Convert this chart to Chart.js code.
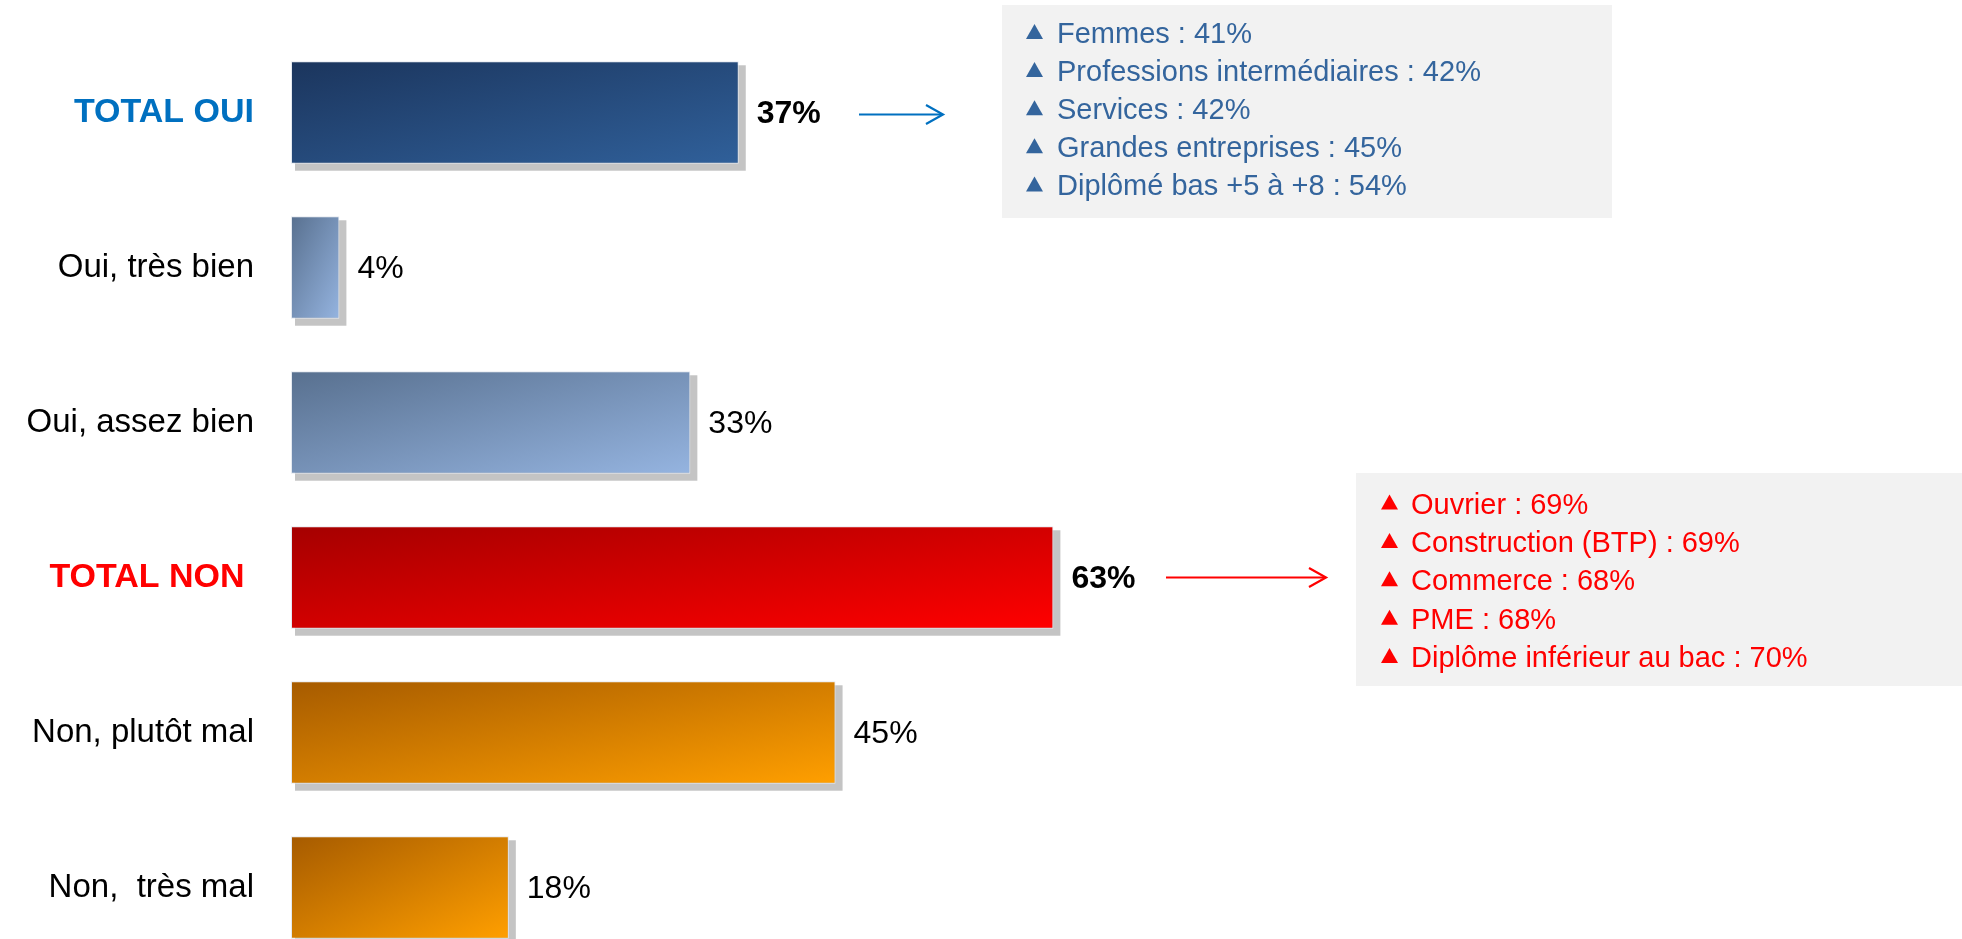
<!DOCTYPE html>
<html><head><meta charset="utf-8">
<script src="https://cdn.jsdelivr.net/npm/chart.js@4/dist/chart.umd.min.js"></script>
<style>html,body{margin:0;padding:0;overflow:hidden;background:#fff;width:1962px;height:939px}canvas{display:block}</style>
</head><body>
<canvas id="c" width="1962" height="970"></canvas>
<script>
// ---- data ----
const categories = ['TOTAL OUI', 'Oui, très bien', 'Oui, assez bien', 'TOTAL NON ', 'Non, plutôt mal', 'Non,  très mal'];
const values = [37, 4, 33, 63, 45, 18];
const totalRows = [true, false, false, true, false, false];
const ouiLabels = ['Femmes', 'Professions intermédiaires', 'Services', 'Grandes entreprises', 'Diplômé bas +5 à +8'];
const ouiValues = [41, 42, 42, 45, 54];
const nonLabels = ['Ouvrier', 'Construction (BTP)', 'Commerce', 'PME', 'Diplôme inférieur au bac'];
const nonValues = [69, 69, 68, 68, 70];

// ---- styles ----
const FONT = '"Liberation Sans", Arial, sans-serif';
const gradStart = ['#1b355d', '#58708f', '#58708f', '#a50000', '#a65b00', '#a65b00'];
const gradEnd = ['#30609a', '#95b4e0', '#95b4e0', '#ff0000', '#ff9f00', '#ff9f00'];
const labelColors = ['#0070c0', '#000', '#000', '#ff0000', '#000', '#000'];
const BAR_RATIO = 0.661;

function barGradient(ctx) {
  const chart = ctx.chart;
  const i = ctx.dataIndex || 0;
  const xs = chart.scales.x, ys = chart.scales.y;
  if (!chart.chartArea || !xs || !ys || ctx.type !== 'data') return gradEnd[i];
  const x0 = xs.getPixelForValue(0), x1 = xs.getPixelForValue(values[i]);
  const pitch = ys.getPixelForValue(1) - ys.getPixelForValue(0);
  const h = pitch * BAR_RATIO;
  const y0 = ys.getPixelForValue(i) - h / 2;
  const w = x1 - x0;
  const k = 2 * w * h / (h * h + w * w);
  const g = chart.ctx.createLinearGradient(x0, y0, x0 + h * k, y0 + w * k);
  g.addColorStop(0, gradStart[i]);
  g.addColorStop(1, gradEnd[i]);
  return g;
}

const shadowPlugin = {
  id: 'shadows',
  beforeDatasetsDraw(chart) {
    const ctx = chart.ctx;
    const meta = chart.getDatasetMeta(0);
    ctx.save();
    ctx.fillStyle = '#c4c4c4';
    meta.data.forEach(el => {
      const p = el.getProps(['x', 'y', 'base', 'height'], true);
      const top = p.y - p.height / 2;
      ctx.fillRect(p.base + 4, top + 4, p.x - p.base + 3, p.height + 3);
    });
    ctx.restore();
  }
};

const valueLabelPlugin = {
  id: 'valueLabels',
  afterDatasetsDraw(chart) {
    const ctx = chart.ctx;
    const meta = chart.getDatasetMeta(0);
    meta.data.forEach((el, i) => {
      ctx.save();
      ctx.font = (totalRows[i] ? 'bold ' : '') + '32px ' + FONT;
      ctx.fillStyle = '#000';
      ctx.textAlign = 'left';
      ctx.textBaseline = 'middle';
      ctx.fillText(values[i] + '%', el.x + 18, el.y + 2);
      ctx.restore();
    });
  }
};

function drawArrow(ctx, x0, x1, y, color) {
  ctx.save();
  ctx.strokeStyle = color;
  ctx.lineWidth = 2.2;
  ctx.lineCap = 'butt';
  ctx.beginPath();
  ctx.moveTo(x0, y); ctx.lineTo(x1 - 1, y);
  ctx.stroke();
  ctx.beginPath();
  ctx.moveTo(x1 - 17, y - 9.5); ctx.lineTo(x1, y); ctx.lineTo(x1 - 17, y + 9.5);
  ctx.stroke();
  ctx.restore();
}

function drawBox(ctx, box, labels, vals, color) {
  ctx.save();
  ctx.fillStyle = '#f2f2f2';
  ctx.fillRect(box.x, box.y, box.w, box.h);
  ctx.fillStyle = color;
  ctx.font = '29px ' + FONT;
  ctx.textAlign = 'left';
  ctx.textBaseline = 'middle';
  labels.forEach((lab, j) => {
    const cy = box.firstLine + j * box.pitch;
    ctx.beginPath();
    ctx.moveTo(box.triX, cy + 5);
    ctx.lineTo(box.triX + 17, cy + 5);
    ctx.lineTo(box.triX + 8.5, cy - 10);
    ctx.closePath();
    ctx.fill();
    ctx.fillText(lab + ' : ' + vals[j] + '%', box.textX, cy + 1);
  });
  ctx.restore();
}

const annotationPlugin = {
  id: 'annotations',
  afterDraw(chart) {
    const ctx = chart.ctx;
    const meta = chart.getDatasetMeta(0);
    drawArrow(ctx, 859, 943, meta.data[0].y + 2, '#0070c0');
    drawArrow(ctx, 1166, 1326, meta.data[3].y, '#ff0000');
    drawBox(ctx, {x: 1002, y: 5, w: 610, h: 213, triX: 1026, textX: 1057, firstLine: 34, pitch: 38.1}, ouiLabels, ouiValues, '#34659d');
    drawBox(ctx, {x: 1356, y: 473, w: 606, h: 213, triX: 1381, textX: 1411, firstLine: 504.5, pitch: 38.4}, nonLabels, nonValues, '#ff0000');
  }
};

new Chart(document.getElementById('c'), {
  type: 'bar',
  data: {
    labels: categories,
    datasets: [{
      data: values,
      backgroundColor: barGradient,
      borderColor: '#e4e9f0',
      borderWidth: 1,
      borderSkipped: false,
      barPercentage: BAR_RATIO,
      categoryPercentage: 1
    }]
  },
  options: {
    indexAxis: 'y',
    responsive: false,
    animation: false,
    layout: {padding: {left: 0, right: 1, top: 35, bottom: 5}},
    plugins: {legend: {display: false}, tooltip: {enabled: false}},
    scales: {
      x: {type: 'linear', min: 0, max: 138, display: false},
      y: {
        grid: {display: false, drawTicks: false},
        border: {display: false},
        afterFit: (scale) => { scale.width = 291; scale.paddingTop = 0; scale.paddingBottom = 0; },
        ticks: {
          padding: 37,
          color: (c) => labelColors[c.index],
          font: (c) => totalRows[c.index] ? {family: FONT, size: 34, weight: 'bold'} : {family: FONT, size: 33}
        }
      }
    }
  },
  plugins: [shadowPlugin, valueLabelPlugin, annotationPlugin]
});
</script>
</body></html>
